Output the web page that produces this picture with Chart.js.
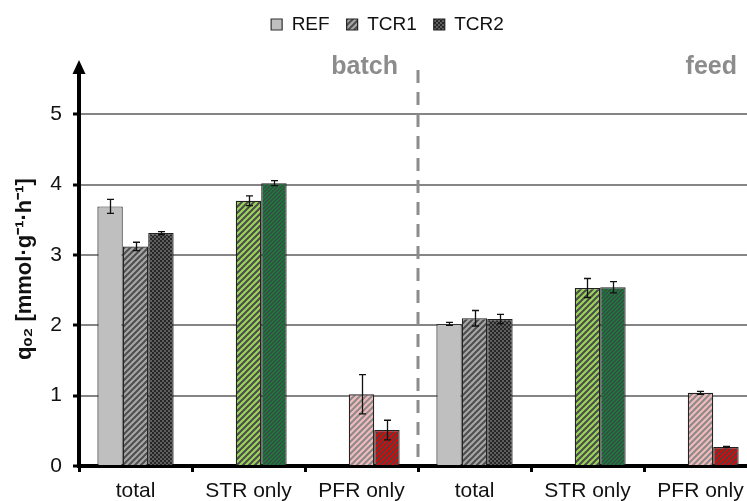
<!DOCTYPE html>
<html>
<head>
<meta charset="utf-8">
<script src="https://cdn.jsdelivr.net/npm/chart.js@4"></script>
<style>
  html, body { margin: 0; padding: 0; background: #fff; overflow: hidden; }
  #wrap { width: 747px; height: 501px; overflow: hidden; position: relative; }
  canvas { display: block; }
</style>
</head>
<body>
<div id="wrap"><canvas id="c" width="757" height="501"></canvas></div>
<script>
// ---- data ----
const categories = ['total', 'STR only', 'PFR only', 'total', 'STR only', 'PFR only'];
const seriesNames = ['REF', 'TCR1', 'TCR2'];
const refValues  = [3.69, null, null, 2.02, null, null];
const tcr1Values = [3.12, 3.77, 1.02, 2.10, 2.53, 1.04];
const tcr2Values = [3.31, 4.02, 0.51, 2.09, 2.54, 0.27];
const refErrors  = [0.10, null, null, 0.02, null, null];
const tcr1Errors = [0.06, 0.07, 0.28, 0.11, 0.135, 0.02];
const tcr2Errors = [0.02, 0.035, 0.14, 0.065, 0.08, 0.01];
const yTickValues = [0, 1, 2, 3, 4, 5];
const phaseLabels = ['batch', 'feed'];
const phaseBoundaries = [2.5, 5.5];
const yTitle = 'q\u2092\u2082 [mmol\u00B7g\u207B\u00B9\u00B7h\u207B\u00B9]';

// ---- patterns ----
function stripes(bg, fg, size, lw) {
  const c = document.createElement('canvas');
  c.width = c.height = size;
  const g = c.getContext('2d');
  g.fillStyle = bg; g.fillRect(0, 0, size, size);
  g.strokeStyle = fg; g.lineWidth = lw; g.beginPath();
  g.moveTo(0, size); g.lineTo(size, 0);
  g.moveTo(-size / 4, size / 4); g.lineTo(size / 4, -size / 4);
  g.moveTo(size * 3 / 4, size * 5 / 4); g.lineTo(size * 5 / 4, size * 3 / 4);
  g.stroke();
  return g.createPattern(c, 'repeat');
}
function checker(a, b, cell) {
  const c = document.createElement('canvas');
  c.width = c.height = cell * 2;
  const g = c.getContext('2d');
  g.fillStyle = a; g.fillRect(0, 0, cell * 2, cell * 2);
  g.fillStyle = b; g.fillRect(0, 0, cell, cell); g.fillRect(cell, cell, cell, cell);
  return g.createPattern(c, 'repeat');
}
const refSolid   = '#bfbfbf';
const grayHatch  = stripes('#a6a6a6', '#4d4d4d', 6, 2);
const darkCheck  = checker('#5e5e5e', '#262626', 2);
const greenHatch = stripes('#9bd45a', '#4a4a4a', 6, 2);
const dGreenPat  = stripes('#10883f', '#3d4a42', 4, 1.6);
const pinkHatch  = stripes('#f2baba', '#8a8a8a', 6, 2);
const redPat     = stripes('#ee0000', '#444444', 5, 1.8);

const tcr1Colors = [grayHatch, greenHatch, pinkHatch, grayHatch, greenHatch, pinkHatch];
const tcr2Colors = [darkCheck, dGreenPat, redPat, darkCheck, dGreenPat, redPat];

const errorSets = [refErrors, tcr1Errors, tcr2Errors];

// ---- plugins ----
const decor = {
  id: 'decor',
  beforeDraw(chart) {
    // move legend to the reference position
    const lg = chart.legend;
    if (lg && !lg._shifted) {
      lg.left += 9; lg.right += 9;
      lg.top -= 28; lg.bottom -= 28;
      lg._shifted = true;
    }
  },
  afterDatasetsDraw(chart) {
    const ctx = chart.ctx, y = chart.scales.y, x = chart.scales.x;
    const area = chart.chartArea;
    // dashed phase separator
    ctx.save();
    ctx.strokeStyle = '#8c8c8c';
    ctx.lineWidth = 3;
    ctx.setLineDash([13, 9]);
    const sx = Math.round(x.getPixelForValue(phaseBoundaries[0]));
    ctx.beginPath();
    ctx.moveTo(sx, area.top - 2);
    ctx.lineTo(sx, area.bottom - 4);
    ctx.stroke();
    ctx.restore();
    // error bars
    ctx.save();
    ctx.strokeStyle = '#111';
    ctx.lineWidth = 1.3;
    chart.data.datasets.forEach((ds, di) => {
      const meta = chart.getDatasetMeta(di);
      meta.data.forEach((bar, i) => {
        const v = ds.data[i], e = errorSets[di][i];
        if (v == null || e == null) return;
        const bx = Math.round(bar.x) + 0.5;
        const yt = y.getPixelForValue(v + e), yb = y.getPixelForValue(v - e);
        ctx.beginPath();
        ctx.moveTo(bx, yt); ctx.lineTo(bx, yb);
        ctx.moveTo(bx - 3.5, yt); ctx.lineTo(bx + 3.5, yt);
        ctx.moveTo(bx - 3.5, yb); ctx.lineTo(bx + 3.5, yb);
        ctx.stroke();
      });
    });
    ctx.restore();
  },
  afterDraw(chart) {
    const ctx = chart.ctx, x = chart.scales.x;
    const area = chart.chartArea;
    // arrow head on y axis
    ctx.save();
    ctx.fillStyle = '#000';
    ctx.beginPath();
    ctx.moveTo(area.left, area.top - 12);
    ctx.lineTo(area.left - 6.5, area.top + 2);
    ctx.lineTo(area.left + 6.5, area.top + 2);
    ctx.closePath();
    ctx.fill();
    // phase labels
    ctx.fillStyle = '#8c8c8c';
    ctx.font = 'bold 25px "Liberation Sans", Arial, sans-serif';
    ctx.textAlign = 'right';
    ctx.textBaseline = 'alphabetic';
    phaseLabels.forEach((t, i) => {
      ctx.fillText(t, x.getPixelForValue(phaseBoundaries[i]) - 20, area.top + 2);
    });
    ctx.restore();
  }
};

const FONT = '"Liberation Sans", Arial, sans-serif';

new Chart(document.getElementById('c'), {
  type: 'bar',
  data: {
    labels: categories,
    datasets: [
      { label: seriesNames[0], data: refValues, backgroundColor: refSolid, borderColor: '#333', borderWidth: 1.2 },
      { label: seriesNames[1], data: tcr1Values, backgroundColor: tcr1Colors, borderColor: '#222', borderWidth: 1.2 },
      { label: seriesNames[2], data: tcr2Values, backgroundColor: tcr2Colors, borderColor: '#222', borderWidth: 1.2 }
    ]
  },
  options: {
    responsive: false,
    animation: false,
    devicePixelRatio: 1,
    layout: { padding: { top: 26, left: 0, right: 0, bottom: 0 } },
    datasets: { bar: { barPercentage: 1.0, categoryPercentage: 0.675 } },
    plugins: {
      legend: {
        position: 'top',
        labels: {
          font: { family: FONT, size: 19 },
          color: '#111',
          boxWidth: 11,
          boxHeight: 11,
          padding: 17
        }
      },
      tooltip: { enabled: false }
    },
    scales: {
      x: {
        afterFit(scale) { scale.height = 35; },
        grid: { display: true, drawOnChartArea: false, offset: true, tickLength: 6, tickWidth: 3, tickColor: '#000' },
        border: { display: true, color: '#000', width: 4 },
        ticks: { font: { family: FONT, size: 21, lineHeight: 1.05 }, color: '#111', padding: 8, maxRotation: 0, autoSkip: false }
      },
      y: {
        min: 0,
        max: 5.6,
        afterBuildTicks(scale) { scale.ticks = yTickValues.map(v => ({ value: v })); },
        afterFit(scale) { scale.width = 79; },
        ticks: { stepSize: 1, includeBounds: false, font: { family: FONT, size: 21 }, color: '#111', padding: 11 },
        grid: { color: '#858585', lineWidth: 2, tickLength: 6, tickWidth: 3, tickColor: '#000' },
        border: { display: true, color: '#000', width: 4 },
        title: {
          display: true,
          text: yTitle,
          font: { family: FONT, size: 22, weight: 'bold' },
          color: '#111',
          padding: { top: 12, bottom: 0 }
        }
      }
    }
  },
  plugins: [decor]
});
</script>
</body>
</html>
